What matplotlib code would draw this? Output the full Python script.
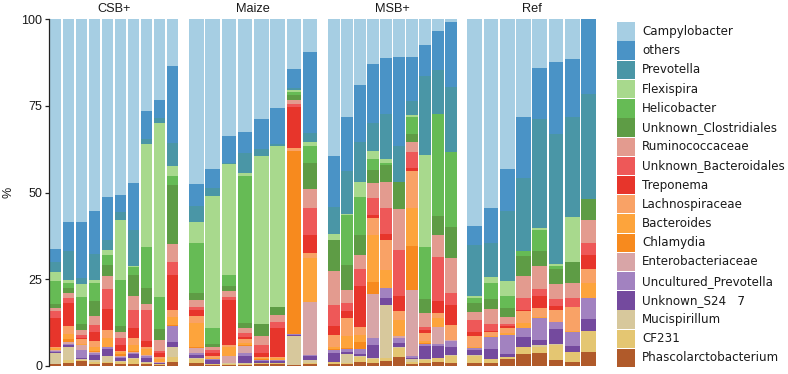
import numpy as np
import matplotlib
matplotlib.use("Agg")
import matplotlib.pyplot as plt
from matplotlib.patches import Rectangle

# ---------------- data ----------------
groups = ["CSB+", "Maize", "MSB+", "Ref"]
group_sizes = [10, 8, 10, 8]

# taxa, from bottom of stack to top
taxa = ["Phascolarctobacterium", "CF231", "Mucispirillum", "Unknown_S24   7",
        "Uncultured_Prevotella", "Enterobacteriaceae", "Chlamydia", "Bacteroides",
        "Lachnospiraceae", "Treponema", "Unknown_Bacteroidales", "Ruminococcaceae",
        "Unknown_Clostridiales", "Helicobacter", "Flexispira", "Prevotella",
        "others", "Campylobacter"]

colors = ["#B05A2A", "#E4C672", "#D7C89C", "#744A9E",
          "#A282C0", "#D8A5A7", "#F78A1E", "#FDA43C",
          "#F9A266", "#E7352B", "#EE5858", "#E39B8F",
          "#5E9C45", "#66BB55", "#A8D98D", "#4A96A6",
          "#4A93C6", "#A6CEE3"]

# values in %, order: CSB+ (10), Maize (8), MSB+ (10), Ref (8)
phascolarctobacterium = [0.4, 0.9, 1.3, 0.5, 0.7, 0.5, 0.6, 0.5, 0.3, 1.2,
                         0.7, 0.3, 0.2, 0.3, 0.5, 0.5, 0.1, 0.4,
                         0.5, 0.6, 1.0, 0.9, 1.3, 2.4, 0.6, 0.7, 1.2, 0.7,
                         0.9, 0.7, 1.9, 3.3, 3.6, 1.6, 1.2, 4.0]
cf231 = [0.2, 0.7, 0.3, 0.6, 0.5, 0.5, 1.4, 0.4, 0.2, 1.2,
         1.2, 0.05, 0.2, 0.3, 0.2, 0.2, 0.1, 0.3,
         0.6, 0.3, 1.6, 0.9, 1.0, 2.8, 0.5, 1.0, 1.0, 2.2,
         2.0, 1.1, 0.5, 2.2, 1.9, 4.5, 2.8, 6.0]
mucispirillum = [3.0, 3.9, 0.3, 0.6, 1.6, 0.3, 0.3, 0.3, 0.1, 3.1,
                 0.3, 0.05, 0.3, 0.1, 0.1, 0.1, 8.5, 0.9,
                 0.1, 2.4, 0.3, 0.5, 15.2, 0.1, 0.7, 0.1, 0.1, 0.1,
                 0.2, 0.1, 0.1, 0.0, 0.5, 0.3, 0.0, 0.0]
unknown_s24_7 = [0.4, 0.4, 0.4, 1.5, 1.9, 0.9, 1.0, 1.1, 0.2, 1.4,
                 0.9, 1.2, 0.1, 2.1, 0.5, 0.7, 0.2, 1.3,
                 2.6, 0.7, 0.5, 3.7, 2.1, 1.3, 0.5, 3.9, 3.4, 2.5,
                 1.4, 2.8, 1.0, 2.9, 1.4, 4.2, 1.8, 3.5]
uncultured_prevotella = [0.3, 0.4, 2.2, 0.5, 0.6, 0.3, 0.4, 0.5, 0.1, 4.6,
                         0.6, 0.2, 0.1, 1.0, 0.3, 0.2, 0.2, 0.2,
                         0.7, 0.8, 1.3, 2.1, 2.7, 1.3, 0.6, 0.6, 0.5, 1.7,
                         0.5, 3.5, 5.4, 2.4, 6.3, 1.9, 4.0, 6.1]
enterobacteriaceae = [0.2, 0.6, 1.5, 0.3, 0.0, 0.2, 0.2, 0.2, 0.1, 0.1,
                      1.5, 0.2, 2.0, 1.8, 0.1, 0.0, 0.0, 15.2,
                      0.1, 0.1, 0.1, 12.5, 0.0, 0.7, 18.9, 0.1, 5.1, 0.1,
                      0.0, 0.1, 0.0, 0.0, 0.0, 0.0, 0.0, 0.0]
chlamydia = [0.1, 0.7, 0.0, 0.2, 0.2, 0.6, 0.2, 0.1, 0.1, 0.1,
             0.1, 0.0, 0.0, 0.5, 0.1, 0.0, 52.9, 0.0,
             0.1, 0.1, 2.0, 3.7, 0.0, 0.1, 12.8, 0.1, 0.0, 0.0,
             0.0, 0.1, 0.0, 0.0, 0.0, 0.0, 0.0, 0.0]
bacteroides = [0.4, 1.5, 0.4, 1.2, 2.4, 0.6, 1.9, 1.7, 0.8, 2.4,
               7.0, 0.3, 2.6, 0.5, 0.3, 0.6, 0.0, 12.7,
               0.6, 3.6, 2.0, 13.4, 5.3, 4.5, 11.0, 0.7, 2.4, 0.1,
               0.5, 0.1, 0.5, 1.4, 0.4, 0.2, 0.2, 4.2]
lachnospiraceae = [0.5, 2.4, 1.3, 1.8, 2.4, 0.3, 1.9, 0.5, 0.5, 2.0,
                   2.0, 0.5, 0.5, 1.1, 0.3, 0.3, 0.8, 1.4,
                   3.6, 5.1, 2.3, 4.8, 8.7, 2.6, 10.6, 2.1, 1.4, 4.3,
                   3.1, 1.1, 1.6, 3.6, 2.5, 3.4, 7.0, 4.1]
treponema = [8.2, 6.7, 0.4, 2.4, 6.0, 1.8, 2.9, 1.9, 1.2, 10.1,
             1.7, 1.0, 13.0, 0.7, 1.2, 8.2, 12.0, 5.3,
             2.6, 2.2, 12.0, 1.0, 1.7, 4.3, 0.8, 1.0, 3.6, 5.8,
             1.2, 0.4, 0.5, 0.3, 3.6, 1.2, 0.0, 4.2]
unknown_bacteroidales = [2.2, 1.2, 0.9, 2.2, 5.9, 1.9, 5.3, 8.9, 0.7, 3.8,
                         1.0, 0.7, 0.9, 1.0, 2.4, 1.7, 0.7, 7.7,
                         6.0, 2.1, 4.7, 5.0, 7.6, 13.3, 4.6, 0.8, 12.6, 3.4,
                         3.4, 2.0, 0.4, 3.3, 1.9, 1.9, 2.6, 3.2]
ruminococcaceae = [0.9, 1.7, 1.3, 2.6, 3.6, 1.9, 4.0, 1.6, 3.1, 5.0,
                   2.0, 0.8, 1.7, 1.4, 2.7, 2.1, 1.2, 5.6,
                   9.8, 3.8, 4.2, 4.1, 7.3, 11.8, 2.9, 4.0, 6.4, 10.1,
                   2.4, 4.3, 2.2, 6.6, 6.7, 4.3, 4.4, 6.8]
unknown_clostridiales = [0.9, 1.2, 1.6, 4.2, 3.2, 1.7, 6.1, 4.6, 3.2, 17.2,
                         1.9, 1.0, 1.4, 1.6, 3.2, 2.4, 1.4, 7.4,
                         9.0, 7.3, 5.7, 3.9, 5.0, 7.9, 2.4, 4.1, 5.6, 9.1,
                         2.4, 2.9, 2.7, 5.8, 4.3, 4.4, 5.8, 6.0]
helicobacter = [6.8, 1.5, 8.0, 5.3, 2.9, 13.2, 2.2, 11.9, 9.3, 2.6,
                14.6, 4.5, 3.2, 42.5, 0.1, 0.0, 1.0, 5.0,
                0.0, 14.5, 10.9, 3.2, 0.5, 0.0, 4.8, 15.2, 29.4, 21.7,
                1.6, 4.6, 3.4, 1.3, 6.1, 1.0, 0.0, 0.0]
flexispira = [2.6, 0.9, 3.6, 0.9, 1.4, 17.4, 0.5, 29.7, 50.1, 2.9,
              6.1, 38.3, 31.9, 0.6, 48.5, 46.4, 0.5, 1.3,
              1.7, 0.2, 4.3, 2.3, 1.3, 0.0, 0.7, 26.4, 0.0, 0.0,
              0.5, 1.7, 4.3, 0.0, 0.5, 0.4, 13.0, 0.0]
prevotella = [2.7, 8.4, 1.7, 7.4, 2.9, 2.2, 10.3, 1.5, 1.6, 6.7,
              4.6, 2.1, 0.3, 5.8, 2.0, 0.5, 0.5, 2.4,
              7.9, 12.4, 11.8, 8.0, 12.9, 10.4, 4.0, 22.8, 12.7, 18.8,
              14.7, 10.0, 20.2, 21.0, 31.5, 37.5, 29.1, 30.2]
others = [3.8, 8.3, 16.4, 12.6, 12.5, 5.0, 13.4, 8.2, 5.1, 22.2,
          6.3, 5.5, 7.9, 6.1, 8.6, 10.6, 5.6, 23.6,
          14.7, 15.7, 16.3, 17.1, 16.1, 25.7, 12.8, 9.0, 11.2, 18.5,
          5.5, 9.9, 12.1, 17.6, 14.7, 21.0, 16.6, 21.7]
campylobacter = [66.4, 58.6, 58.4, 55.2, 51.3, 50.7, 47.4, 26.4, 23.3, 13.4,
                 47.5, 43.3, 33.7, 32.6, 28.9, 25.5, 14.3, 9.3,
                 39.4, 28.1, 19.0, 12.9, 11.3, 10.8, 10.8, 7.4, 3.4, 0.9,
                 59.7, 54.6, 43.2, 28.3, 14.1, 12.2, 11.5, 0.0]

series = [phascolarctobacterium, cf231, mucispirillum, unknown_s24_7,
          uncultured_prevotella, enterobacteriaceae, chlamydia, bacteroides,
          lachnospiraceae, treponema, unknown_bacteroidales, ruminococcaceae,
          unknown_clostridiales, helicobacter, flexispira, prevotella,
          others, campylobacter]
values = np.array(series, dtype=float)

yticks = [0, 25, 50, 75, 100]

# ---------------- layout ----------------
W, H = 788, 374
fig = plt.figure(figsize=(W / 100, H / 100), dpi=100)

txt_col = "#1a1a1a"
main_font = "Liberation Sans"

panel_left = [49.0, 188.3, 327.2, 466.6]
panel_w = 130.0
panel_top = 19.3
panel_bot = 365.7

start = 0
for gi, (g, n) in enumerate(zip(groups, group_sizes)):
    x0 = panel_left[gi]
    ax = fig.add_axes([x0 / W, 1 - panel_bot / H, panel_w / W,
                       (panel_bot - panel_top) / H])
    sub = values[:, start:start + n]
    start += n
    x = np.arange(n)
    bottom = np.zeros(n)
    for k in range(len(taxa)):
        ax.bar(x, sub[k], width=0.9, bottom=bottom, color=colors[k],
               linewidth=0, edgecolor="none")
        bottom = bottom + sub[k]
    ax.set_xlim(-0.5, n - 0.5)
    ax.set_ylim(0, 100)
    ax.set_xticks([])
    for s in ["top", "right", "bottom"]:
        ax.spines[s].set_visible(False)
    if gi == 0:
        ax.spines["left"].set_color("#222222")
        ax.spines["left"].set_linewidth(0.9)
        ax.set_yticks(yticks)
        ax.set_yticklabels([str(t) for t in yticks], fontfamily=main_font,
                           fontsize=9, color=txt_col)
        ax.tick_params(axis="y", length=3.2, width=0.9, color="#222222", pad=1.5)
    else:
        ax.spines["left"].set_visible(False)
        ax.set_yticks([])
    ax.set_facecolor("white")
    fig.text((x0 + panel_w / 2) / W, 1 - 9.0 / H, g, ha="center", va="center",
             fontfamily=main_font, fontsize=9.2, color=txt_col)

fig.text(8.5 / W, 1 - 192.5 / H, "%", rotation=90, ha="center", va="center",
         fontfamily=main_font, fontsize=9, color=txt_col)

# ---------------- legend (top: Campylobacter) ----------------
leg_x = 617.0
leg_top = 22.3
step = 19.2
sw_w, sw_h = 18.0, 18.4
for i, k in enumerate(range(len(taxa) - 1, -1, -1)):
    top = leg_top + i * step
    fig.patches.append(Rectangle((leg_x / W, 1 - (top + sw_h) / H), sw_w / W, sw_h / H,
                                 transform=fig.transFigure, facecolor=colors[k],
                                 edgecolor="none", figure=fig))
    fig.text(642.0 / W, 1 - (top + sw_h / 2) / H, taxa[k], ha="left", va="center",
             fontfamily="DejaVu Sans", fontsize=8.6, color=txt_col)

fig.savefig("out.png", dpi=100, facecolor="white")
